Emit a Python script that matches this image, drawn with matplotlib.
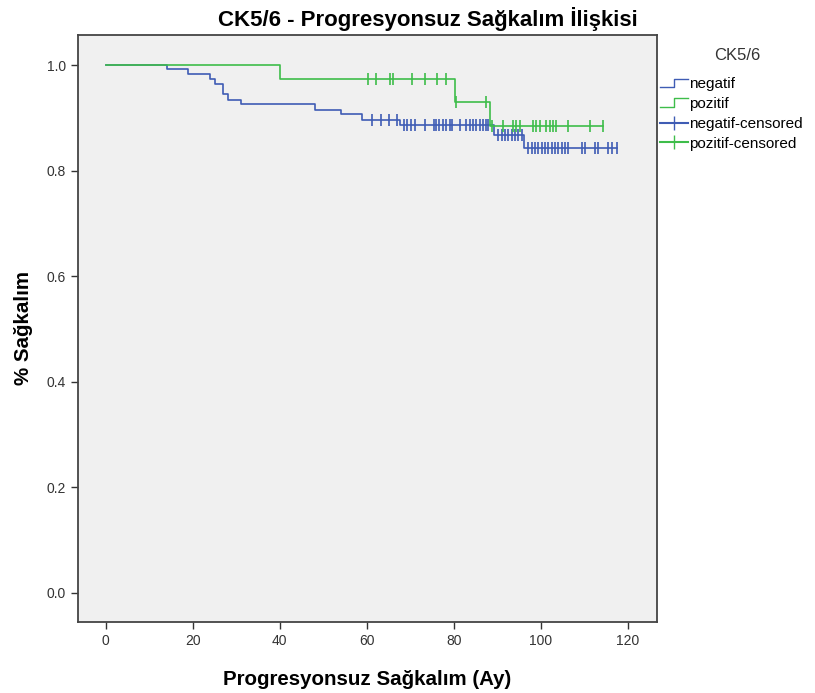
import numpy as np
import matplotlib.pyplot as plt
from matplotlib.lines import Line2D
from matplotlib.legend_handler import HandlerBase

# Kaplan-Meier basamaklari (negatif / pozitif)
neg_times = [0, 14, 19, 24, 25, 27, 28, 31, 48, 54, 59, 67.7, 89.3, 96.2]
neg_surv = [1.0, 0.992, 0.983, 0.973, 0.964, 0.945, 0.934, 0.926, 0.915,
            0.907, 0.896, 0.886, 0.867, 0.843]
neg_censored = [61.1, 63.2, 65.1, 67.0, 68.5, 69.3, 70.1, 71.0, 73.3, 75.4,
                75.9, 76.6, 77.5, 78.3, 79.1, 79.5, 81.4, 82.9, 83.7, 84.4,
                85.2, 86.0, 86.7, 87.4, 87.9, 90.2, 91.0, 91.7, 92.5, 93.3,
                94.0, 94.8, 95.6, 97.1, 97.9, 98.6, 99.4, 100.2, 100.9, 101.7,
                102.5, 103.2, 104.0, 104.8, 105.5, 106.3, 109.4, 110.1, 112.4,
                113.2, 115.5, 116.3, 117.4]

pos_times = [0, 40, 80.2, 88.3]
pos_surv = [1.0, 0.973, 0.930, 0.884]
pos_censored = [60.3, 62.2, 65.3, 66.1, 70.3, 73.3, 76.2, 78.3, 80.4, 87.5,
                88.7, 91.3, 93.6, 94.4, 95.2, 98.2, 99.0, 99.8, 101.3, 102.1,
                102.8, 103.6, 106.3, 111.3, 114.3]

groups = ['negatif', 'pozitif']
colors = ['#3f5cb4', '#3ebd4a']

plt.rcParams['font.family'] = ['Liberation Sans', 'DejaVu Sans']


def surv_at(times, surv, t):
    idx = np.searchsorted(times, t, side='right') - 1
    return np.array(surv)[idx]


class StepHandler(HandlerBase):
    def create_artists(self, legend, orig, xd, yd, w, h, fontsize, trans):
        xs = [xd, xd + w * 0.5, xd + w * 0.5, xd + w]
        ys = [yd + h * 0.1, yd + h * 0.1, yd + h * 0.9, yd + h * 0.9]
        ln = Line2D(xs, ys, color=orig.get_color(), lw=1.0, transform=trans)
        return [ln]


fig = plt.figure(figsize=(8.15, 6.93), dpi=100)
ax = fig.add_axes([0.0957, 0.1025, 0.7104, 0.847])
ax.set_facecolor('#f0f0f0')

data = [(neg_times, neg_surv, neg_censored), (pos_times, pos_surv, pos_censored)]
for (times, surv, cens), c in zip(data, colors):
    end = max(cens)
    ax.step(list(times) + [end], list(surv) + [surv[-1]], where='post',
            color=c, lw=1.2)
    ax.plot(cens, surv_at(times, surv, cens), linestyle='none', marker='|',
            color=c, markersize=8, markeredgewidth=1.2)

ax.set_xlim(-6.4, 126.7)
ax.set_ylim(-0.055, 1.057)
ax.set_xticks(np.arange(0, 121, 20))
ax.set_yticks(np.arange(0, 1.01, 0.2))
ax.yaxis.set_major_formatter(plt.FormatStrFormatter('%.1f'))
ax.tick_params(direction='out', length=5, width=1, color='#333333',
               labelsize=10, labelcolor='#333333')
for s in ax.spines.values():
    s.set_color('#444444')
    s.set_linewidth(1.3)

ax.set_xlabel('Progresyonsuz Sağkalım (Ay)', fontsize=14.8, fontweight='bold',
              labelpad=16)
ax.set_ylabel('% Sağkalım', fontsize=14.8, fontweight='bold', labelpad=10)
fig.text(0.525, 0.972, 'CK5/6 - Progresyonsuz Sağkalım İlişkisi',
         ha='center', va='center', fontsize=16, fontweight='bold')

handles = [Line2D([], [], color=colors[0]), Line2D([], [], color=colors[1]),
           Line2D([], [], color=colors[0], marker='|', markersize=10),
           Line2D([], [], color=colors[1], marker='|', markersize=10)]
labels = groups + [g + '-censored' for g in groups]
leg = fig.legend(handles, labels, title='CK5/6', loc='upper left',
                 bbox_to_anchor=(0.793, 0.950), frameon=False, fontsize=11,
                 title_fontsize=12, handlelength=1.8, handletextpad=0.1,
                 labelspacing=0.38,
                 handler_map={handles[0]: StepHandler(), handles[1]: StepHandler()})
leg.get_title().set_color('#333333')
leg._legend_box.align = 'left'
leg._legend_box.sep = 10
leg.get_title().set_position((54, 0))

fig.savefig('out.png', dpi=100)
